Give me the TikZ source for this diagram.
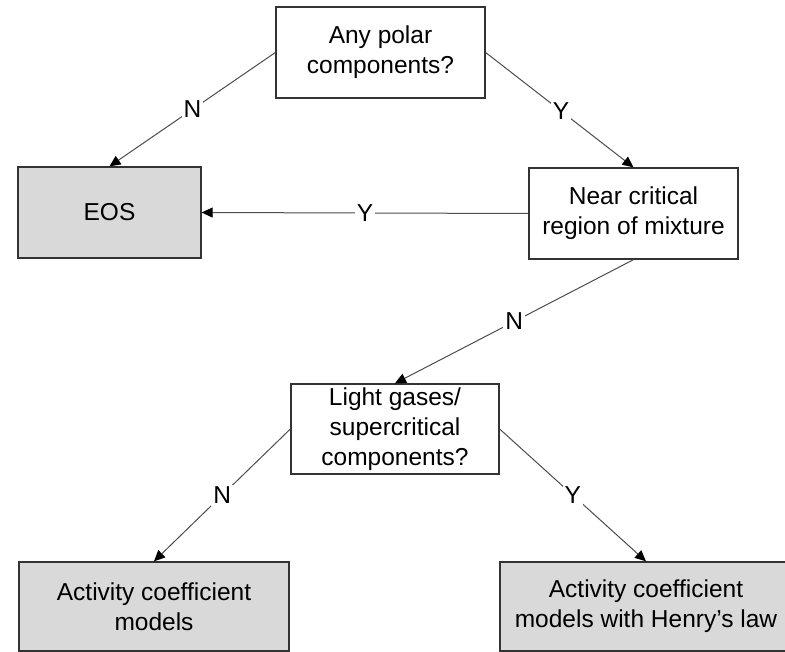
\documentclass[tikz,border=0pt]{standalone}
\usepackage{fontspec}
\setmainfont{Liberation Sans}
\usetikzlibrary{arrows.meta}
\begin{document}
\begin{tikzpicture}[x=1pt,y=-1pt,
  box/.style={draw=black!80,line width=1.3pt,inner sep=0pt,align=center,
    font=\fontsize{24.5}{30}\selectfont},
  grey/.style={fill=black!15},
  conn/.style={draw=black!70,line width=1pt,-{Triangle[length=11pt,width=10pt,color=black]}},
  lab/.style={fill=white,inner sep=2pt,font=\fontsize{24.5}{30}\selectfont}]
\useasboundingbox (0,0) rectangle (785,652);
\clip (0,0) rectangle (785,652);
\node[box,minimum width=209pt,minimum height=91pt] (q1) at (380.5,52.5) {Any polar\\components?};
\node[box,grey,minimum width=183pt,minimum height=91pt] (eos) at (109.5,212.5) {EOS};
\node[box,minimum width=209pt,minimum height=91pt] (near) at (633.5,213.5) {Near critical\\region of mixture};
\node[box,minimum width=208pt,minimum height=90pt] (light) at (395,429) {Light gases/\\supercritical\\components?};
\node[box,grey,minimum width=270pt,minimum height=89pt] (act1) at (154,606.5) {Activity coefficient\\models};
\node[box,grey,minimum width=292pt,minimum height=89pt] (act2) at (646,606.5) {Activity coefficient\\models with Henry’s law};
\draw[conn] (q1.west) -- node[lab,pos=0.5] {N} (eos.north);
\draw[conn] (q1.east) -- node[lab,pos=0.51] {Y} (near.north);
\draw[conn] (near.west) -- node[lab,pos=0.5] {Y} (eos.east);
\draw[conn] (near.south) -- node[lab,pos=0.5] {N} (light.north);
\draw[conn] (light.west) -- node[lab,pos=0.5] {N} (act1.north);
\draw[conn] (light.east) -- node[lab,pos=0.5] {Y} (act2.north);
\end{tikzpicture}
\end{document}
